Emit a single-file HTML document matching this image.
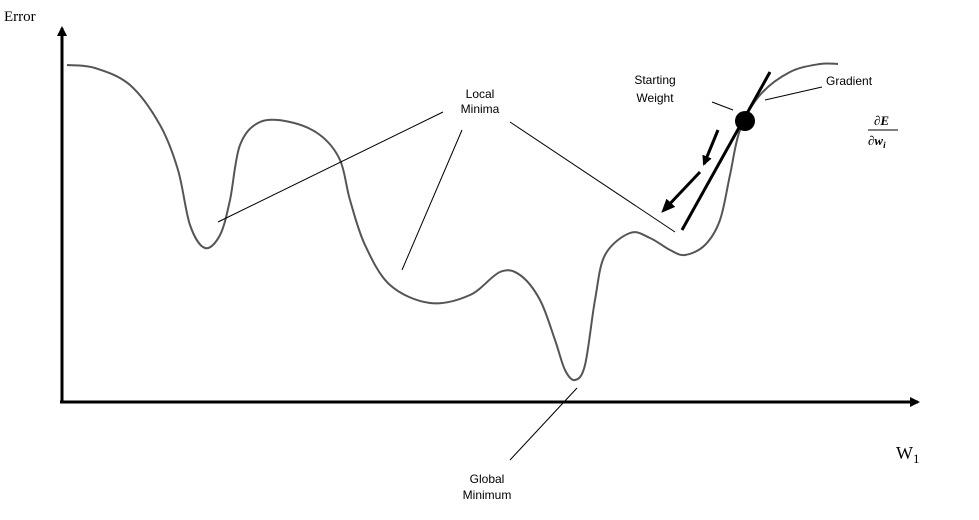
<!DOCTYPE html>
<html><head><meta charset="utf-8"><style>
html,body{margin:0;padding:0;background:#fff;}
svg{display:block;}
.lbl{font-family:"Liberation Sans",sans-serif;font-size:12px;fill:#000;}
</style></head><body>
<svg id="chart" width="979" height="520" viewBox="0 0 979 520">
<defs>
<marker id="ah" markerWidth="10" markerHeight="10" refX="8" refY="5" orient="auto" markerUnits="userSpaceOnUse"><path d="M0,0 L10,5 L0,10 Z" fill="#000"/></marker>
<marker id="ah2" markerWidth="14" markerHeight="12" refX="10" refY="6" orient="auto" markerUnits="userSpaceOnUse"><path d="M0,0 L14,6 L0,12 Z" fill="#000"/></marker>
</defs>
<line x1="62" y1="402" x2="62" y2="28" stroke="#000" stroke-width="3" marker-end="url(#ah)"/>
<line x1="60" y1="402" x2="918" y2="402" stroke="#000" stroke-width="3" marker-end="url(#ah)"/>
<text x="4" y="21" font-family="Liberation Serif,serif" font-size="15">Error</text>
<text x="896" y="459" font-family="Liberation Serif,serif" font-size="18">W<tspan font-size="13" dy="4">1</tspan></text>
<path id="curve" fill="none" stroke="#555" stroke-width="2"/>
<g stroke="#000" stroke-width="1">
<line x1="443" y1="112" x2="218" y2="222"/>
<line x1="462" y1="130" x2="402" y2="270"/>
<line x1="510" y1="122" x2="675" y2="232"/>
<line x1="712" y1="102" x2="733" y2="110"/>
<line x1="822" y1="87" x2="765" y2="100"/>
<line x1="577" y1="388" x2="510" y2="460"/>
</g>
<line x1="770" y1="72" x2="682" y2="230" stroke="#000" stroke-width="3"/>
<line x1="718" y1="130" x2="704" y2="164" stroke="#000" stroke-width="3" marker-end="url(#ah)"/>
<line x1="700" y1="172" x2="664" y2="210" stroke="#000" stroke-width="3" marker-end="url(#ah2)"/>
<circle cx="745" cy="121" r="10" fill="#000"/>
<text class="lbl" x="480" y="98" text-anchor="middle"><tspan x="480">Local</tspan><tspan x="480" dy="15">Minima</tspan></text>
<text class="lbl" x="655" y="84" text-anchor="middle"><tspan x="655">Starting</tspan><tspan x="655" dy="18">Weight</tspan></text>
<text class="lbl" x="826" y="85">Gradient</text>
<text class="lbl" x="487" y="483" text-anchor="middle"><tspan x="487">Global</tspan><tspan x="487" dy="16">Minimum</tspan></text>
<g font-family="Liberation Serif,serif" font-style="italic" font-weight="bold" font-size="13">
<text x="874" y="125">∂E</text>
<line x1="868" y1="130" x2="898" y2="130" stroke="#000" stroke-width="1"/>
<text x="868" y="145">∂w<tspan font-size="9" dy="3">i</tspan></text>
</g>
</svg>
<script>
const curveW=[5,33,68,98,116,128,143,158,168,178,198,228,258,278,288,303,328,368,408,438,458,478,493,503,513,523,533,543,568,588,608,623,643,658,668,678,698,728,758,776];
const curveE=[335,332,315,275,230,175,152,165,200,255,278,278,265,240,200,155,115,97,105,128,125,100,60,30,20,35,100,145,167,162,150,145,155,180,225,270,305,328,336,336];
const xs=v=>62+v, ys=v=>400-v;
const pts=curveW.map((w,i)=>[xs(w),ys(curveE[i])]);
let d='M'+pts[0][0]+','+pts[0][1];
for(let i=0;i<pts.length-1;i++){
 const p0=pts[i-1]||pts[i],p1=pts[i],p2=pts[i+1],p3=pts[i+2]||p2;
 const c1=[p1[0]+(p2[0]-p0[0])/6,p1[1]+(p2[1]-p0[1])/6];
 const c2=[p2[0]-(p3[0]-p1[0])/6,p2[1]-(p3[1]-p1[1])/6];
 d+=` C${c1[0]},${c1[1]} ${c2[0]},${c2[1]} ${p2[0]},${p2[1]}`;
}
document.getElementById('curve').setAttribute('d',d);
</script>
</body></html>
